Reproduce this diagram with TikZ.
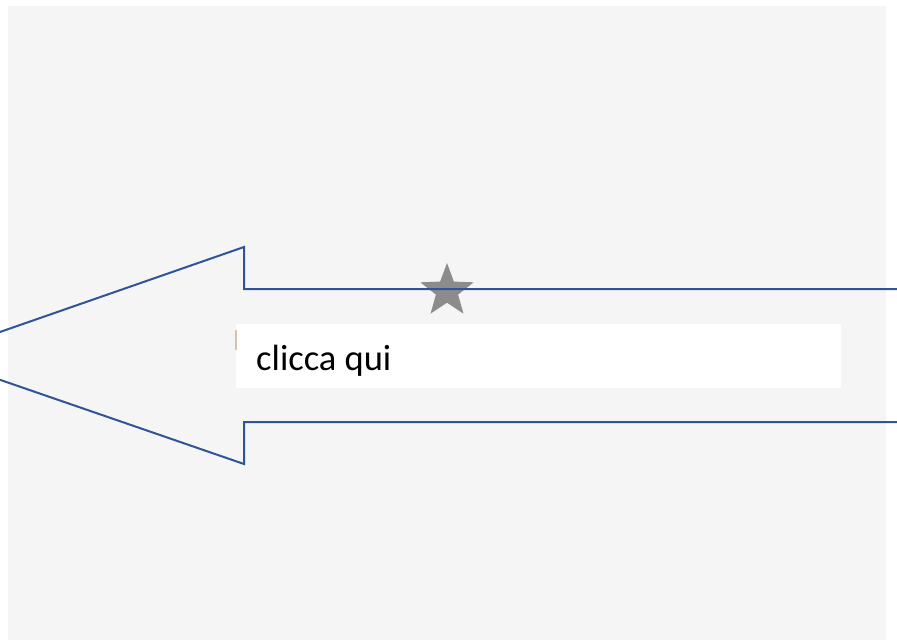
\documentclass[tikz,border=0pt]{standalone}
\usepackage{fontspec}
\setmainfont{Carlito}
\usetikzlibrary{shapes.geometric}
\definecolor{bg}{HTML}{F5F5F5}
\definecolor{arrowblue}{HTML}{2F5597}
\definecolor{stargray}{HTML}{8C8C8C}
\definecolor{tanmark}{HTML}{D8C4A4}
\tikzset{
  x=1pt,y=-1pt,
  bigarrow/.style={draw=arrowblue,line width=2pt,line join=miter},
  labelbox/.style={fill=white,draw=none,minimum width=605pt,minimum height=64pt,inner sep=0pt,anchor=north west},
  starshape/.style={star,star points=5,star point ratio=2.4,fill=stargray,draw=none,minimum size=56pt,inner sep=0pt}
}
\begin{document}
\begin{tikzpicture}
\useasboundingbox (0,0) rectangle (897,643);
\clip (0,0) rectangle (897,643);
\fill[bg] (8,6) rectangle (886,640);
\node[starshape] (star) at (447,291) {};
\draw[bigarrow] (905,289) -- (244,289) -- (244,247) -- (-69,356) -- (244,464) -- (244,422) -- (905,422);
\node[labelbox] (box) at (236,324) {};
\fill[tanmark] (235,330) rectangle (237,350);
\node[anchor=base west,inner sep=0pt,font=\fontsize{36.5}{42}\selectfont] (lbl) at (256,370) {clicca qui};
\end{tikzpicture}
\end{document}
